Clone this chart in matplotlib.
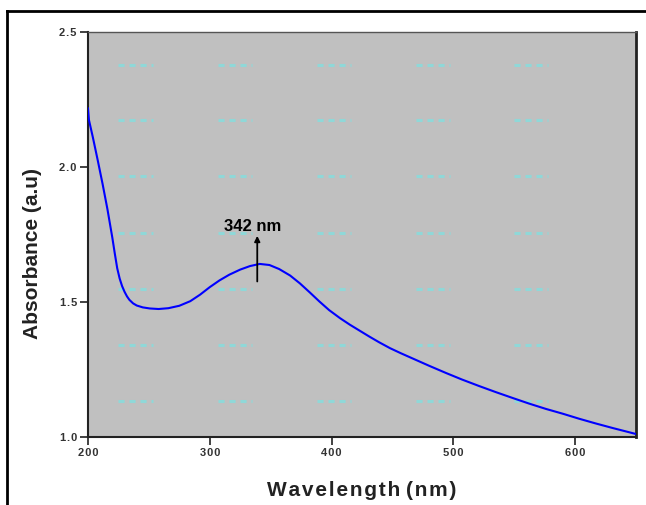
import matplotlib
matplotlib.use("Agg")
import matplotlib.pyplot as plt
from matplotlib.lines import Line2D

plt.rcParams['font.family'] = ['Liberation Sans', 'DejaVu Sans']

# UV-vis spectrum
wavelength = [200, 200.8, 204, 208, 212, 216, 220, 222, 224, 226, 228, 230,
              232, 234, 237, 240, 245, 250.8, 258, 266, 275, 284, 292,
              300, 308, 316, 325, 333, 341, 349, 357, 366, 374, 382, 390, 398,
              407, 415, 423, 431, 439, 448, 457, 467, 480, 494, 507, 521, 535,
              549, 562, 576, 590, 603, 617, 631, 650]
absorbance = [2.217, 2.174, 2.110, 2.025, 1.937, 1.843, 1.738, 1.680, 1.625,
              1.587, 1.559, 1.538, 1.521, 1.508, 1.495, 1.487, 1.480, 1.476,
              1.474, 1.477, 1.486,
              1.503, 1.527, 1.555, 1.580, 1.601, 1.620, 1.633, 1.641, 1.637,
              1.622, 1.598, 1.569, 1.536, 1.502, 1.470, 1.440, 1.416, 1.394,
              1.372, 1.351, 1.329, 1.310, 1.290, 1.264, 1.237, 1.213, 1.189,
              1.166, 1.144, 1.124, 1.104, 1.086, 1.068, 1.050, 1.033, 1.011]

peak_label = "342 nm"
arrow_x = 339
arrow_from, arrow_to = 1.576, 1.745

x_ticks = [200, 300, 400, 500, 600]
y_ticks = [1.0, 1.5, 2.0, 2.5]

# faint cyan watermark dashes in the plot background
mark_x = [239, 321, 402, 483, 564]
mark_y = [2.378, 2.174, 1.967, 1.756, 1.548, 1.341, 1.133]

HS = '\u200a'  # hair space, the original type is letter-spaced


def spaced(s):
    return HS.join(s)


fig = plt.figure(figsize=(6.46, 5.05), dpi=100)
ax = fig.add_axes([0.1362, 0.1347, 0.8483, 0.8019])
ax.set_facecolor('#c0c0c0')

for mx in mark_x:
    for my in mark_y:
        ax.plot([mx - 14, mx + 14], [my, my], color='#8fd8d8', lw=2.2,
                linestyle=(0, (2, 1.6)), zorder=1)

ax.plot(wavelength, absorbance, color='#0000ff', lw=1.5, zorder=3)

ax.annotate('', xy=(arrow_x, arrow_to), xytext=(arrow_x, arrow_from),
            arrowprops=dict(arrowstyle='-|>', color='black', lw=1.3,
                            mutation_scale=8, shrinkA=0, shrinkB=0), zorder=4)
ax.text(arrow_x - 27, 1.781, peak_label, fontsize=12, fontweight='bold',
        ha='left', va='center', zorder=5)

ax.set_xlim(200, 650)
ax.set_ylim(1.0, 2.5)
ax.set_xticks(x_ticks)
ax.set_yticks(y_ticks)
ax.set_xticklabels([spaced(str(v)) for v in x_ticks])
ax.set_yticklabels([spaced(f"{v:.1f}") for v in y_ticks])
ax.tick_params(direction='out', length=6, width=1.3, labelsize=8,
               colors='#333333', pad=2)
for lab in ax.get_xticklabels() + ax.get_yticklabels():
    lab.set_fontweight('bold')

ax.spines['left'].set_linewidth(1.5)
ax.spines['bottom'].set_linewidth(1.5)
ax.spines['right'].set_linewidth(2.0)
ax.spines['top'].set_linewidth(1.0)
ax.spines['top'].set_color('#555555')
for s in ['left', 'bottom', 'right']:
    ax.spines[s].set_color('#222222')

ax.set_xlabel(spaced('Wavelength') + ' ' + spaced('(nm)'), fontsize=15,
              fontweight='bold', color='#222222', va='center')
ax.xaxis.set_label_coords(0.5, -0.133)
ax.set_ylabel('Absorbance (a.u)', fontsize=15, fontweight='bold',
              color='#222222', va='center')
ax.yaxis.set_label_coords(-0.102, 0.452)

# outer frame around the picture (open at right and bottom)
fig.add_artist(Line2D([7 / 646, 7 / 646], [0, 1 - 11 / 505],
                      transform=fig.transFigure, color='black', lw=2))
fig.add_artist(Line2D([7 / 646, 1], [1 - 11 / 505, 1 - 11 / 505],
                      transform=fig.transFigure, color='black', lw=2))

fig.savefig('out.png', dpi=100)
